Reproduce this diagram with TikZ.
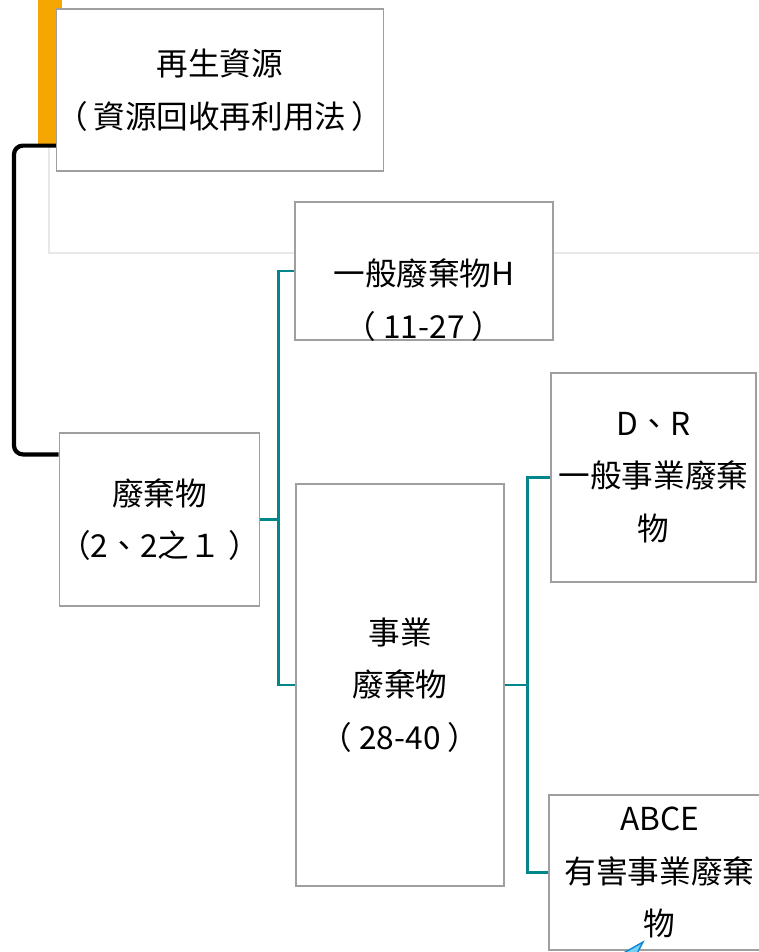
\documentclass[tikz,border=0pt]{standalone}
\usepackage{fontspec}
\setmainfont{Noto Sans CJK TC}
\usepackage{tikz}
\usetikzlibrary{calc}
\definecolor{linkteal}{RGB}{0,134,139}
\definecolor{barorange}{RGB}{245,166,0}
\tikzset{
    box/.style={draw=gray!75, line width=0.7pt, fill=white, inner sep=0pt},
    txt/.style={align=center, font=\fontsize{18pt}{30pt}\selectfont},
    link/.style={draw=linkteal, line width=1.4pt},
    bracket/.style={draw=black, line width=2.4pt, rounded corners=5pt},
}

\begin{document}
\begin{tikzpicture}
\useasboundingbox (0,0) rectangle (15.18,-19.04);
\clip (0,0) rectangle (15.18,-19.04);
% background panel and side bar
\filldraw[fill=white, draw=gray!18, line width=0.6pt] (0.98,0.2) rectangle (15.6,-5.06);
\fill[barorange] (0.76,0.1) rectangle (1.24,-2.9);

\node[box, txt, minimum width=6.48cm, minimum height=3.24cm] (res) at (4.40,-1.80) {再生資源\\（\,資源回收再利用法\,）};
\node[box, txt, minimum width=3.98cm, minimum height=3.46cm] (waste) at (3.19,-10.39) {廢棄物\\（2、2之１ ）};
\node[box, minimum width=5.16cm, minimum height=2.76cm] (gen) at (8.48,-5.42) {};
\node[txt] (gentxt) at ([yshift=-0.58cm]gen.center) {一般廢棄物H\\（ 11-27 ）};
\node[box, txt, minimum width=4.16cm, minimum height=8.04cm] (ind) at (8.00,-13.70) {事業\\廢棄物\\（ 28-40 ）};
\node[box, txt, minimum width=4.10cm, minimum height=4.18cm] (dr) at (13.07,-9.55) {D、R\\一般事業廢棄\\物};
\node[box, txt, minimum width=4.42cm, minimum height=3.10cm] (haz) at (13.19,-17.45) {ABCE\\有害事業廢棄\\物};

% links
\coordinate (bk) at (0.28,0);
\coordinate (r1) at ([yshift=0.52cm]res.south west);
\coordinate (w1) at ([yshift=-0.44cm]waste.north west);
\draw[bracket] (r1) -| (bk |- w1) -- (w1);
\draw[link] (waste.east) -- ++(0.36,0) |- (gen.west);
\draw[link] (waste.east) -- ++(0.36,0) |- (ind.west);
\draw[link] (ind.east) -- ++(0.46,0) |- (dr.west);
\draw[link] (ind.east) -- ++(0.46,0) |- (haz.west);

% arrow tip at the bottom edge
\coordinate (tip) at (12.86,-18.84);
\filldraw[fill=cyan!55, draw=cyan!70!blue, line width=0.8pt] (tip) -- (12.40,-19.10) -- (12.62,-19.30) -- cycle;
\end{tikzpicture}
\end{document}
